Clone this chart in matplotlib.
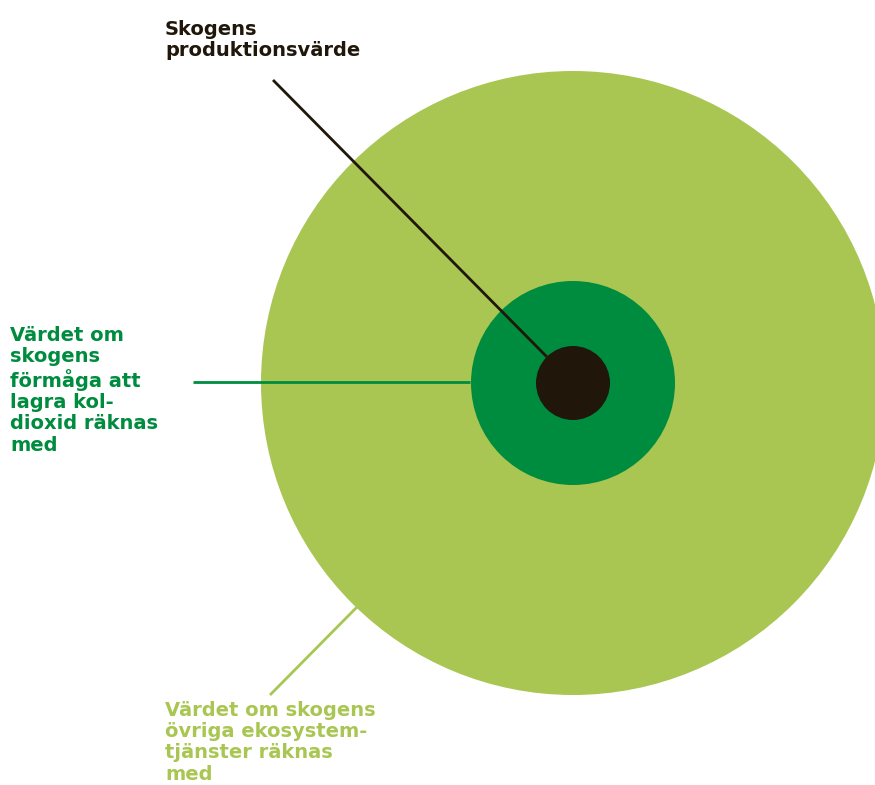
import matplotlib.pyplot as plt
from matplotlib.patches import Circle

# concentric circles, outer to inner (pixel units)
radii = [312, 102, 37]
colors = ['#a9c653', '#008c3e', '#20170a']
center = (573, 383)

labels = [
    'Skogens\nproduktionsvärde',
    'Värdet om\nskogens\nförmåga att\nlagra kol-\ndioxid räknas\nmed',
    'Värdet om skogens\növriga ekosystem-\ntjänster räknas\nmed',
]
label_colors = ['#20170a', '#008c3e', '#a9c653']
label_pos = [(165, 20), (10, 326), (165, 701)]
leaders = [((273, 80), (547, 357)), ((193, 382), (470, 382)), ((270, 695), (357, 607))]


def main():
    fig = plt.figure(figsize=(8.75, 7.85), dpi=100)
    ax = fig.add_axes([0, 0, 1, 1])
    ax.set_xlim(0, 875)
    ax.set_ylim(785, 0)
    ax.set_aspect('equal')
    ax.axis('off')

    for r, c in zip(radii, colors):
        ax.add_patch(Circle(center, r, color=c, lw=0))

    for (p0, p1), c in zip(leaders, label_colors):
        ax.plot([p0[0], p1[0]], [p0[1], p1[1]], color=c, lw=2, solid_capstyle='butt')

    for txt, (x, y), c in zip(labels, label_pos, label_colors):
        ax.text(x, y, txt, color=c, fontsize=14, fontweight='bold',
                family='DejaVu Sans', va='top', ha='left', linespacing=1.15)

    plt.savefig('out.png', dpi=100)


if __name__ == '__main__':
    main()
